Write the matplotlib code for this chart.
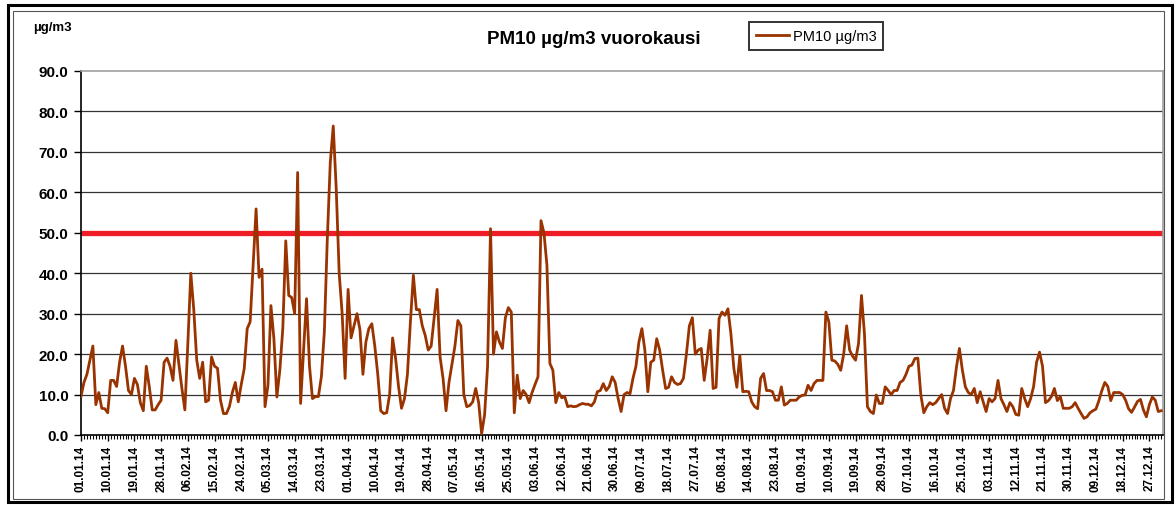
import numpy as np
import pandas as pd
import matplotlib
matplotlib.use("Agg")
import matplotlib.pyplot as plt
from matplotlib.patches import Rectangle

plt.rcParams['font.family'] = ['Liberation Sans', 'DejaVu Sans']

# daily PM10 means 2014
pm10 = [
    9.5, 13, 15, 18.5, 22, 7.5, 10.5, 6.6, 6.5, 5.5,
    13.5, 13.5, 12, 18, 22, 17, 11, 10, 14, 12.5,
    8, 6, 17, 12, 6.2, 6.2, 7.5, 8.6, 18, 19,
    17, 13.5, 23.4, 17.5, 11.5, 6.2, 22.6, 40, 31, 18.5,
    14, 18, 8.2, 8.6, 19.3, 17, 16.5, 8.6, 5.3, 5.3,
    7, 10.5, 13, 8.2, 12.5, 16.4, 26.3, 28, 41.9, 55.9,
    39, 41, 7, 12.3, 32, 23.8, 9.4, 16, 26.3, 48,
    34.5, 34, 30, 64.9, 7.8, 21, 33.7, 17, 9, 9.5,
    9.5, 14.4, 25.5, 48.5, 67.4, 76.4, 61, 40, 30, 14,
    36, 24, 27, 30, 26, 15, 23, 26.3, 27.5, 22,
    15, 6, 5.3, 5.5, 10, 24, 19, 12, 6.6, 9,
    15, 28, 39.5, 31, 31, 27, 24.6, 21, 22, 29,
    36, 19.3, 14, 6, 13, 17.5, 22, 28.3, 27, 10,
    7, 7.3, 8.2, 11.5, 8, 0.3, 5, 17, 51, 20,
    25.5, 23, 21.4, 29, 31.5, 30.4, 5.5, 14.8, 9, 11,
    10, 8, 10.5, 12.5, 14.4, 53, 50, 42, 17.7, 16,
    8, 10.5, 9.2, 9.5, 7, 7.2, 7, 7.1, 7.5, 7.8,
    7.6, 7.6, 7.2, 8.2, 10.7, 11, 12.7, 11, 12, 14.4,
    13, 9, 5.8, 10, 10.5, 10.2, 14, 17, 23, 26.3,
    21, 10.7, 18, 18.5, 23.8, 21, 16, 11.5, 11.8, 14.4,
    13, 12.5, 12.7, 14, 20, 27, 29, 20, 21, 21.4,
    13.5, 19, 25.9, 11.5, 11.8, 28.8, 30.4, 29.6, 31.2, 25,
    16.4, 11.8, 19.7, 10.7, 10.8, 10.7, 8.2, 7, 6.5, 14,
    15.2, 11, 11, 10.7, 8.6, 8.6, 11.9, 7.4, 7.8, 8.6,
    8.6, 8.6, 9.4, 9.8, 9.9, 12.3, 11, 12.7, 13.5, 13.5,
    13.5, 30.4, 28, 18.5, 18.3, 17.5, 16, 20, 27, 21,
    19.5, 18.5, 22.6, 34.5, 25, 7, 5.8, 5.3, 9.9, 7.8,
    7.8, 11.9, 11, 10, 11, 11, 13, 13.5, 15, 17,
    17.3, 18.9, 19, 9.9, 5.5, 7, 8, 7.5, 8, 9,
    10, 6.6, 5.3, 9, 11, 16.8, 21.4, 16, 11.9, 10.5,
    10, 11.5, 8, 10.7, 8.2, 5.8, 9, 8.2, 9, 13.5,
    9, 7.5, 5.8, 8, 7, 5.1, 4.9, 11.5, 9, 7,
    9, 12, 18, 20.5, 17, 8, 8.5, 9.5, 11.5, 8.5,
    9.5, 6.6, 6.6, 6.6, 7, 8, 6.6, 5.3, 4.1, 4.5,
    5.5, 6, 6.4, 8.5, 11, 13, 12, 8.5, 10.5, 10.5,
    10.5, 10, 8.6, 6.5, 5.6, 6.9, 8.3, 8.8, 6.2, 4.5,
    7.5, 9.4, 8.6, 5.8, 6,
]
limit_value = 50.0

tick_labels = [
    "01.01.14", "10.01.14", "19.01.14", "28.01.14", "06.02.14", "15.02.14",
    "24.02.14", "05.03.14", "14.03.14", "23.03.14", "01.04.14", "10.04.14",
    "19.04.14", "28.04.14", "07.05.14", "16.05.14", "25.05.14", "03.06.14",
    "12.06.14", "21.06.14", "30.06.14", "09.07.14", "18.07.14", "27.07.14",
    "05.08.14", "14.08.14", "23.08.14", "01.09.14", "10.09.14", "19.09.14",
    "28.09.14", "07.10.14", "16.10.14", "25.10.14", "03.11.14", "12.11.14",
    "21.11.14", "30.11.14", "09.12.14", "18.12.14", "27.12.14",
]

dates = pd.date_range("2014-01-01", periods=len(pm10), freq="D")
date_str = list(dates.strftime("%d.%m.%y"))
x = np.arange(len(pm10))
tick_pos = [date_str.index(t) for t in tick_labels]

W, H = 1176, 506
fig = plt.figure(figsize=(W / 100, H / 100), dpi=100)

# outer double frame
fig.patches.append(Rectangle((8 / W, 3 / H), 1164 / W, 497 / H, transform=fig.transFigure,
                             fill=False, edgecolor="black", lw=2.2))
fig.patches.append(Rectangle((13 / W, 6 / H), 1151 / W, 488 / H, transform=fig.transFigure,
                             fill=False, edgecolor="#555555", lw=0.8))

ax = fig.add_axes([81 / W, 1 - 436 / H, (1163 - 81) / W, (436 - 72) / H])

for v in range(10, 90, 10):
    ax.axhline(v, color="#333333", lw=0.9, zorder=1)
ax.axhline(limit_value, color="#ee1c25", lw=3.8, zorder=2)
ax.plot(x, pm10, color="#993300", lw=2.0, zorder=3, label="PM10 µg/m3")

ax.set_xlim(0, 364.6)
ax.set_ylim(0, 90)
ax.set_yticks(np.arange(0, 91, 10))
ax.set_yticklabels([f"{v:.1f}" for v in range(0, 91, 10)], fontsize=11, fontweight="bold")
ax.set_xticks(tick_pos)
ax.set_xticklabels(tick_labels, rotation=90, fontsize=8.5, fontweight="bold")
ax.set_xticks(x, minor=True)
ax.tick_params(axis="x", which="minor", length=3, width=0.8, direction="out")
ax.tick_params(axis="x", which="major", length=4, width=1, pad=3)
ax.tick_params(axis="y", length=5, width=1, pad=4)

for s in ["left", "bottom"]:
    ax.spines[s].set_color("black")
    ax.spines[s].set_linewidth(1.2)
for s in ["top", "right"]:
    ax.spines[s].set_color("#a0a0a0")
    ax.spines[s].set_linewidth(1.2)

fig.text(33 / W, 1 - 28 / H, "µg/m3", fontsize=9.5, fontweight="bold", va="center", ha="left")
fig.text(594 / W, 1 - 40 / H, "PM10 µg/m3 vuorokausi", fontsize=13.5, fontweight="bold",
         va="center", ha="center")

leg = fig.legend(loc="center", bbox_to_anchor=(816 / W, 1 - 37 / H), fontsize=10.5,
                 frameon=True, fancybox=False, edgecolor="black", handlelength=2.3,
                 handletextpad=0.25, borderpad=0.45)
leg.get_frame().set_linewidth(1.4)

fig.savefig("out.png", dpi=100)
